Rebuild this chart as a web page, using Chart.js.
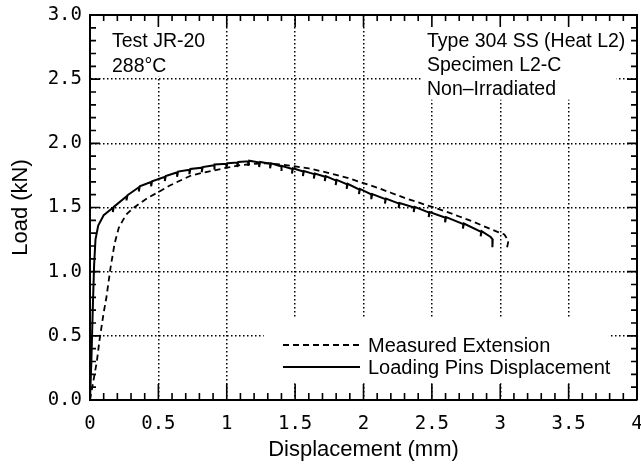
<!DOCTYPE html>
<html>
<head>
<meta charset="utf-8">
<title>Load vs. displacement, Test JR-20</title>
<script src="https://cdn.jsdelivr.net/npm/chart.js@4.4.1/dist/chart.umd.min.js"></script>
<style>
  html, body { margin: 0; padding: 0; background: #fff; }
  #wrap { width: 641px; height: 467px; }
</style>
</head>
<body>
<div id="wrap"><canvas id="chart"></canvas></div>
<script>
// Axis ticks
const xTickValues = [0, 0.5, 1, 1.5, 2, 2.5, 3, 3.5, 4];
const xTickLabels = ['0', '0.5', '1', '1.5', '2', '2.5', '3', '3.5', '4'];
const yTickValues = [0, 0.5, 1, 1.5, 2, 2.5, 3];
const yTickLabels = ['0.0', '0.5', '1.0', '1.5', '2.0', '2.5', '3.0'];

// Measured extension (mm) and load (kN)
const extensionX = [0.00, 0.03, 0.05, 0.07, 0.10, 0.12, 0.15, 0.18, 0.21, 0.24, 0.27, 0.31,
  0.36, 0.43, 0.50, 0.58, 0.66, 0.74, 0.82, 0.91, 1.00, 1.10, 1.20, 1.30, 1.40, 1.50,
  1.60, 1.70, 1.80, 1.90, 2.00, 2.10, 2.20, 2.30, 2.40, 2.50, 2.60, 2.70, 2.80, 2.90,
  2.98, 3.03, 3.06, 3.05];
const extensionY = [0.00, 0.18, 0.30, 0.47, 0.68, 0.80, 1.03, 1.22, 1.34, 1.40, 1.45, 1.49,
  1.53, 1.58, 1.62, 1.67, 1.71, 1.75, 1.77, 1.79, 1.81, 1.83, 1.84, 1.845, 1.835, 1.82,
  1.805, 1.78, 1.755, 1.725, 1.69, 1.655, 1.615, 1.575, 1.54, 1.505, 1.47, 1.43, 1.39, 1.345,
  1.31, 1.29, 1.24, 1.19];

// Loading-pin displacement (mm) and load (kN), with the partial-unloading dips
const pinsX = [0.00, 0.01, 0.02, 0.03, 0.04, 0.06, 0.10,
  0.17, 0.167, 0.174,  0.27, 0.267, 0.274,  0.36, 0.357, 0.364,  0.45, 0.447, 0.454,
  0.55, 0.547, 0.554,  0.64, 0.637, 0.644,  0.73, 0.727, 0.734,  0.82, 0.817, 0.824,
  0.91, 0.907, 0.914,  1.00, 0.997, 1.004,  1.08, 1.077, 1.084,  1.16, 1.157, 1.164,
  1.24, 1.237, 1.244,  1.32, 1.317, 1.324,  1.40, 1.397, 1.404,  1.48, 1.477, 1.484,
  1.56, 1.557, 1.564,  1.64, 1.637, 1.644,  1.72, 1.717, 1.724,  1.80, 1.797, 1.804,
  1.88, 1.877, 1.884,  1.97, 1.967, 1.974,  2.06, 2.057, 2.064,  2.16, 2.157, 2.164,
  2.26, 2.257, 2.264,  2.37, 2.367, 2.374,  2.48, 2.477, 2.484,  2.60, 2.597, 2.604,
  2.73, 2.727, 2.734,  2.86, 2.857, 2.864,
  2.93, 2.945, 2.945, 2.94];
const pinsY = [0.00, 0.30, 0.70, 1.05, 1.25, 1.36, 1.44,
  1.50, 1.465, 1.505,  1.59, 1.555, 1.595,  1.66, 1.625, 1.665,  1.70, 1.665, 1.705,
  1.74, 1.705, 1.745,  1.775, 1.74, 1.78,  1.795, 1.76, 1.80,  1.81, 1.775, 1.815,
  1.83, 1.795, 1.835,  1.84, 1.805, 1.845,  1.85, 1.815, 1.855,  1.86, 1.825, 1.865,
  1.85, 1.815, 1.855,  1.84, 1.805, 1.845,  1.82, 1.785, 1.825,  1.80, 1.765, 1.805,
  1.78, 1.745, 1.785,  1.76, 1.725, 1.765,  1.74, 1.705, 1.745,  1.71, 1.675, 1.715,
  1.68, 1.645, 1.685,  1.64, 1.605, 1.645,  1.60, 1.565, 1.605,  1.565, 1.53, 1.57,
  1.53, 1.495, 1.535,  1.50, 1.465, 1.505,  1.46, 1.425, 1.465,  1.42, 1.385, 1.425,
  1.37, 1.335, 1.375,  1.31, 1.275, 1.315,
  1.27, 1.25, 1.22, 1.19];

const seriesLabels = ['Measured Extension', 'Loading Pins Displacement'];
const notesLeft = ['Test JR-20', '288\u00B0C'];
const notesRight = ['Type 304 SS (Heat L2)', 'Specimen L2-C', 'Non\u2013Irradiated'];

const toPoints = (xs, ys) => xs.map((v, i) => ({ x: v, y: ys[i] }));

const SANS = '"Liberation Sans", Arial, Helvetica, sans-serif';
const MONO = '"DejaVu Sans Mono", "Liberation Mono", monospace';

// White panels that keep the dotted grid out from behind the notes and the key
// (data-space boxes: [x0, x1, y0, y1])
const blankPanels = [
  [0.11, 0.91, 2.52, 3.0],
  [2.42, 3.85, 2.34, 3.0],
  [1.27, 3.81, 0.13, 0.64]
];

const frameDecor = {
  id: 'frameDecor',
  beforeDatasetsDraw(chart) {
    const { ctx, chartArea: a, scales: { x, y } } = chart;
    ctx.save();
    // panels
    ctx.fillStyle = '#fff';
    blankPanels.forEach(([x0, x1, y0, y1]) => {
      const l = Math.max(a.left + 2, x.getPixelForValue(x0));
      const r = Math.min(a.right - 2, x.getPixelForValue(x1));
      const t = Math.max(a.top + 2, y.getPixelForValue(y1));
      const b = Math.min(a.bottom - 2, y.getPixelForValue(y0));
      ctx.fillRect(l, t, r - l, b - t);
    });
    // top and right frame
    ctx.strokeStyle = '#000';
    ctx.lineWidth = 2;
    ctx.beginPath();
    ctx.moveTo(a.left, a.top);
    ctx.lineTo(a.right, a.top);
    ctx.lineTo(a.right, a.bottom);
    ctx.stroke();
    // inward ticks on all four sides, every 0.1
    ctx.lineWidth = 1.6;
    ctx.beginPath();
    for (let i = 0; i <= 40; i++) {
      const px = x.getPixelForValue(i / 10);
      const major = i % 5 === 0;
      ctx.moveTo(px, a.bottom);
      ctx.lineTo(px, a.bottom - (major ? 16 : 7));
      ctx.moveTo(px, a.top);
      ctx.lineTo(px, a.top + (major ? 12 : 6));
    }
    for (let i = 0; i <= 30; i++) {
      const py = y.getPixelForValue(i / 10);
      const major = i % 5 === 0;
      ctx.moveTo(a.left, py);
      ctx.lineTo(a.left + (major ? 10 : 6), py);
      ctx.moveTo(a.right, py);
      ctx.lineTo(a.right - (major ? 10 : 6), py);
    }
    ctx.stroke();
    ctx.restore();
  },
  afterDatasetsDraw(chart) {
    const { ctx } = chart;
    ctx.save();
    ctx.fillStyle = '#000';
    ctx.textBaseline = 'alphabetic';
    ctx.textAlign = 'left';
    ctx.font = '19.5px ' + SANS;
    notesLeft.forEach((t, i) => ctx.fillText(t, 112, 47 + i * 25));
    notesRight.forEach((t, i) => ctx.fillText(t, 427, 47 + i * 24));

    // key
    const keyX = 283, keyY = 345, sample = 77, row = 22;
    ctx.font = '20px ' + SANS;
    ctx.textBaseline = 'middle';
    chart.data.datasets.forEach((ds, i) => {
      const yy = keyY + i * row;
      ctx.save();
      ctx.strokeStyle = ds.borderColor;
      ctx.lineWidth = ds.borderWidth;
      ctx.setLineDash(ds.borderDash || []);
      ctx.beginPath();
      ctx.moveTo(keyX, yy);
      ctx.lineTo(keyX + sample, yy);
      ctx.stroke();
      ctx.restore();
      ctx.fillText(ds.label, keyX + sample + 8, yy + 1);
    });
    ctx.restore();
  }
};

new Chart(document.getElementById('chart'), {
  type: 'line',
  data: {
    datasets: [
      {
        label: seriesLabels[0],
        data: toPoints(extensionX, extensionY),
        borderColor: '#000',
        borderWidth: 1.8,
        borderDash: [6, 4],
        pointRadius: 0,
        tension: 0,
        fill: false
      },
      {
        label: seriesLabels[1],
        data: toPoints(pinsX, pinsY),
        borderColor: '#000',
        borderWidth: 2,
        pointRadius: 0,
        tension: 0,
        fill: false
      }
    ]
  },
  options: {
    responsive: true,
    maintainAspectRatio: false,
    animation: false,
    events: [],
    layout: { padding: { top: 15, right: 4, left: 0, bottom: 0 } },
    plugins: {
      legend: { display: false },
      tooltip: { enabled: false }
    },
    scales: {
      x: {
        type: 'linear',
        min: 0,
        max: 4,
        afterBuildTicks(s) { s.ticks = xTickValues.map(v => ({ value: v })); },
        afterFit(s) { s.paddingLeft = 0; s.paddingRight = 0; s.height = 67; },
        ticks: {
          autoSkip: false,
          maxRotation: 0,
          padding: 13,
          color: '#000',
          font: { family: MONO, size: 19 },
          callback: (v) => xTickLabels[xTickValues.indexOf(v)]
        },
        grid: { color: '#000', lineWidth: 1.5, drawTicks: false },
        border: { display: true, color: '#000', width: 2, dash: [1.5, 2.5] },
        title: {
          display: true,
          text: 'Displacement (mm)',
          color: '#000',
          font: { family: SANS, size: 22 },
          padding: { top: 0, bottom: 4 }
        }
      },
      y: {
        type: 'linear',
        min: 0,
        max: 3,
        afterBuildTicks(s) { s.ticks = yTickValues.map(v => ({ value: v })); },
        afterFit(s) { s.paddingTop = 0; s.paddingBottom = 0; s.width = 90; },
        ticks: {
          autoSkip: false,
          padding: 8,
          color: '#000',
          font: { family: MONO, size: 19 },
          callback: (v) => yTickLabels[yTickValues.indexOf(v)]
        },
        grid: { color: '#000', lineWidth: 1.5, drawTicks: false },
        border: { display: true, color: '#000', width: 2, dash: [1.5, 2.5] },
        title: {
          display: true,
          text: 'Load (kN)',
          color: '#000',
          font: { family: SANS, size: 22 },
          padding: { top: 8, bottom: 0 }
        }
      }
    }
  },
  plugins: [frameDecor]
});
</script>
</body>
</html>
